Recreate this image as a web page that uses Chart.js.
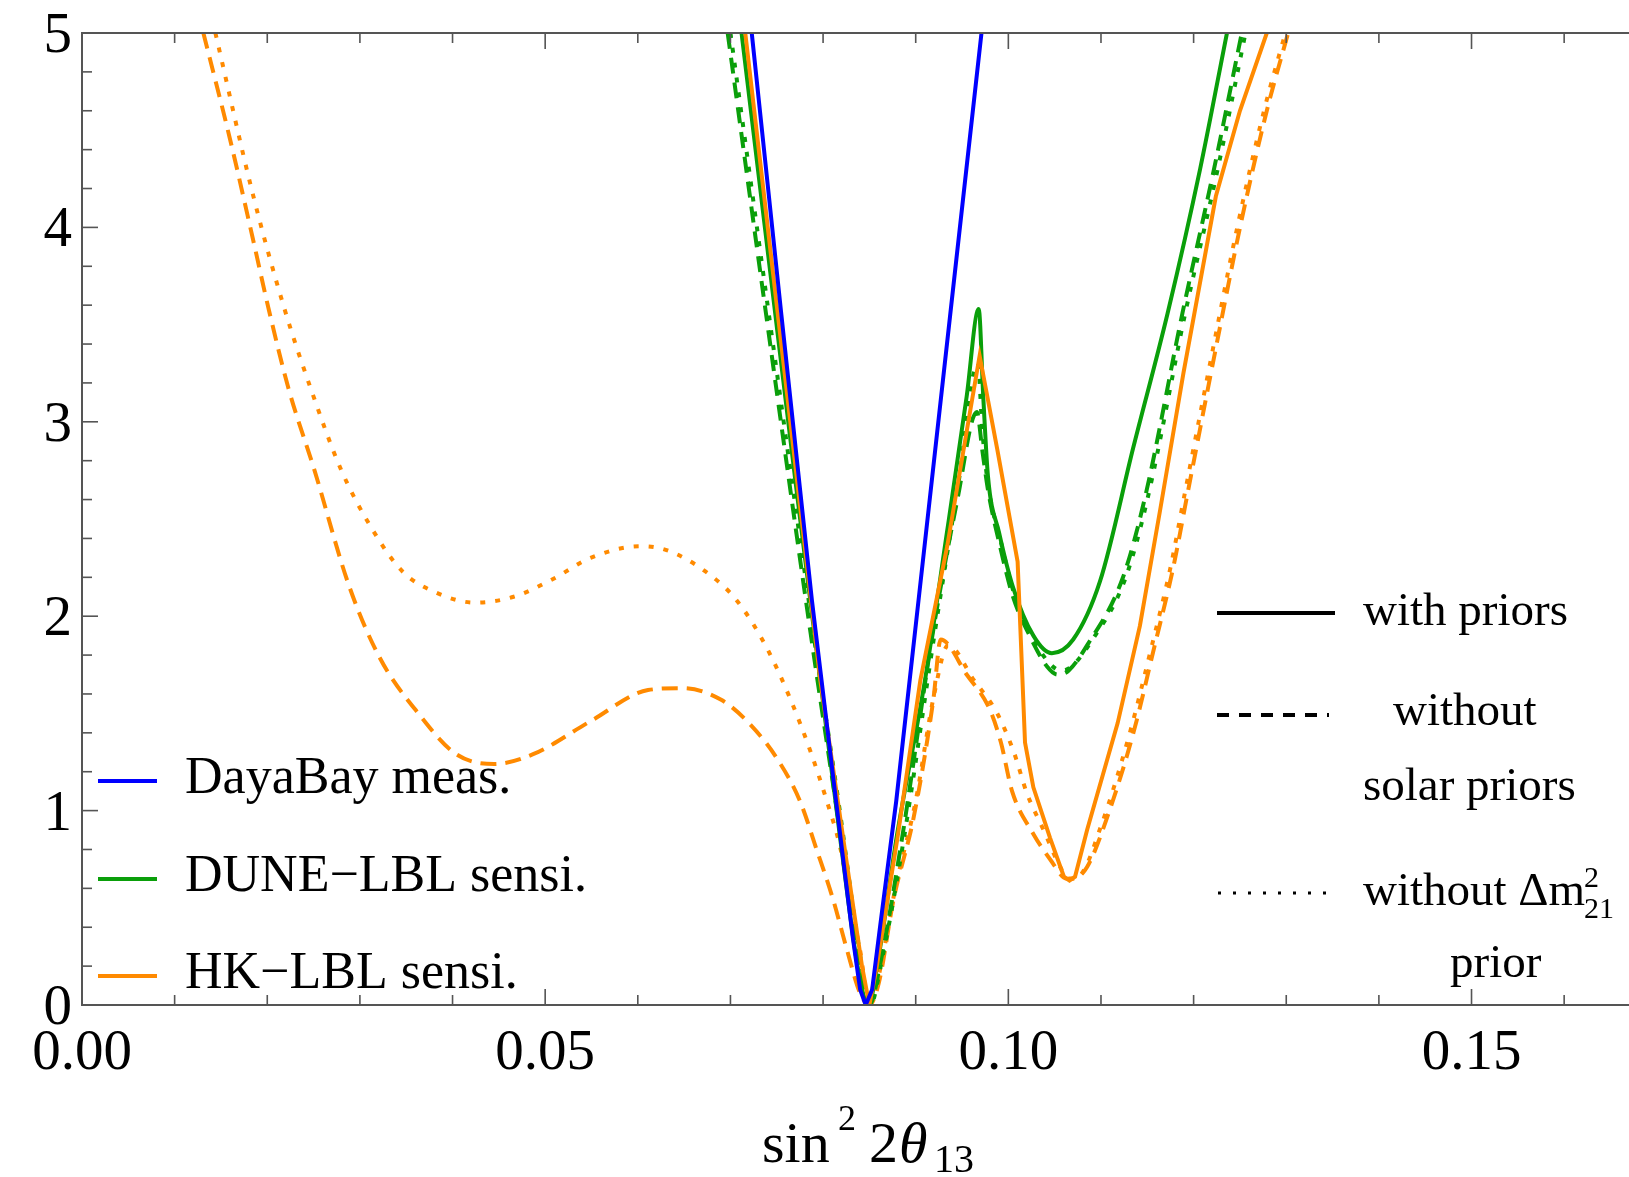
<!DOCTYPE html>
<html lang="en">

<head>
    <meta charset="UTF-8">
    <title>sin^2 2theta13 sensitivity</title>
    <script src="https://cdn.jsdelivr.net/npm/chart.js@4.4.0/dist/chart.umd.min.js"></script>
    <style>
        body {
            margin: 0;
            background: #fff;
        }

        canvas {
            display: block;
        }
    </style>
</head>

<body>
    <canvas id="chart" width="1629" height="1177"></canvas>
    <script>
        // --- data ---
        const dayaBayX = [0.0723, 0.0755, 0.0788, 0.0814, 0.0832, 0.0840, 0.0846, 0.0853, 0.0862, 0.0879, 0.0903, 0.0937, 0.0971];
        const dayaBayY = [5.00, 3.55, 2.08, 1.05, 0.35, 0.08, 0.00, 0.08, 0.42, 1.05, 2.08, 3.54, 5.00];

        const duneX = [0.0712, 0.0744, 0.0770, 0.0797, 0.0820, 0.0838, 0.0849, 0.0859, 0.0880, 0.0910, 0.0934, 0.0955, 0.0968, 0.0973, 0.0978, 0.0990, 0.1005, 0.1027, 0.1047, 0.1070, 0.1099, 0.1135, 0.1172, 0.1207, 0.1236];
        const duneY = [5.00, 3.73, 2.70, 1.67, 0.80, 0.18, 0.00, 0.22, 0.88, 1.67, 2.44, 3.13, 3.58, 3.12, 2.72, 2.43, 2.15, 1.90, 1.81, 1.88, 2.18, 2.87, 3.56, 4.30, 5.00];

        const duneNoSolarX = [0.0697, 0.0740, 0.0786, 0.0815, 0.0835, 0.0850, 0.0862, 0.0885, 0.0919, 0.0945, 0.0966, 0.0972, 0.0978, 0.0991, 0.1005, 0.1024, 0.1042, 0.1053, 0.1065, 0.1085, 0.1123, 0.1147, 0.1188, 0.1222, 0.1252];
        const duneNoSolarY = [5.00, 3.50, 1.93, 1.00, 0.35, 0.00, 0.22, 0.85, 1.93, 2.60, 3.05, 2.85, 2.65, 2.36, 2.10, 1.89, 1.74, 1.70, 1.72, 1.85, 2.19, 2.60, 3.56, 4.30, 5.00];

        const duneNoDm21X = [0.0700, 0.0743, 0.0789, 0.0818, 0.0837, 0.0851, 0.0863, 0.0887, 0.0921, 0.0946, 0.0967, 0.0972, 0.0978, 0.0992, 0.1006, 0.1025, 0.1044, 0.1057, 0.1068, 0.1088, 0.1126, 0.1150, 0.1191, 0.1226, 0.1256];
        const duneNoDm21Y = [5.00, 3.50, 1.93, 1.00, 0.35, 0.00, 0.22, 0.85, 1.93, 2.68, 3.30, 2.95, 2.68, 2.38, 2.12, 1.90, 1.76, 1.72, 1.74, 1.86, 2.19, 2.60, 3.56, 4.30, 5.00];

        const hkX = [0.0716, 0.0750, 0.0797, 0.0825, 0.0842, 0.0850, 0.0858, 0.0880, 0.0905, 0.0934, 0.0955, 0.0969, 0.0988, 0.1010, 0.1012, 0.1018, 0.1027, 0.1045, 0.1060, 0.1066, 0.1072, 0.1085, 0.1118, 0.1142, 0.1164, 0.1189, 0.1224, 0.1250, 0.1279];
        const hkY = [5.00, 3.60, 1.67, 0.75, 0.20, 0.00, 0.20, 0.85, 1.67, 2.36, 2.95, 3.34, 2.86, 2.28, 2.05, 1.35, 1.12, 0.86, 0.66, 0.64, 0.66, 0.90, 1.45, 1.95, 2.55, 3.25, 4.16, 4.60, 5.00];

        const hkNoSolarX = [0.0131, 0.0160, 0.0185, 0.0202, 0.0223, 0.0251, 0.0288, 0.0321, 0.0363, 0.0404, 0.0445, 0.0487, 0.0549, 0.0611, 0.0648, 0.0690, 0.0722, 0.0750, 0.0775, 0.0793, 0.0811, 0.0826, 0.0840, 0.0850, 0.0860, 0.0876, 0.0898, 0.0919, 0.0927, 0.0955, 0.0980, 0.0992, 0.1004, 0.1027, 0.1045, 0.1063, 0.1070, 0.1085, 0.1107, 0.1135, 0.1157, 0.1178, 0.1193, 0.1222, 0.1251, 0.1279, 0.1302];
        const hkNoSolarY = [5.00, 4.45, 3.93, 3.57, 3.17, 2.75, 2.16, 1.79, 1.50, 1.29, 1.24, 1.29, 1.46, 1.62, 1.63, 1.57, 1.44, 1.27, 1.05, 0.80, 0.54, 0.28, 0.06, 0.00, 0.11, 0.54, 0.97, 1.57, 1.88, 1.70, 1.52, 1.35, 1.10, 0.88, 0.75, 0.65, 0.65, 0.71, 0.97, 1.40, 1.83, 2.25, 2.62, 3.33, 4.02, 4.60, 5.00];

        const hkNoDm21X = [0.0144, 0.0185, 0.0218, 0.0247, 0.0280, 0.0313, 0.0346, 0.0383, 0.0424, 0.0466, 0.0508, 0.0549, 0.0603, 0.0631, 0.0673, 0.0707, 0.0740, 0.0765, 0.0786, 0.0804, 0.0819, 0.0829, 0.0840, 0.0850, 0.0860, 0.0878, 0.0900, 0.0920, 0.0935, 0.0963, 0.0988, 0.1006, 0.1020, 0.1038, 0.1056, 0.1065, 0.1078, 0.1100, 0.1130, 0.1155, 0.1175, 0.1190, 0.1219, 0.1248, 0.1276, 0.1299];
        const hkNoDm21Y = [5.00, 4.16, 3.59, 3.17, 2.75, 2.45, 2.23, 2.12, 2.07, 2.10, 2.19, 2.30, 2.36, 2.34, 2.23, 2.08, 1.83, 1.57, 1.31, 1.05, 0.80, 0.54, 0.28, 0.00, 0.15, 0.60, 1.05, 1.60, 1.85, 1.67, 1.50, 1.30, 1.09, 0.90, 0.71, 0.65, 0.67, 0.92, 1.38, 1.85, 2.25, 2.62, 3.33, 4.02, 4.60, 5.00];

        // axis ticks
        const xTickValues = [0, 0.05, 0.10, 0.15];
        const xTickLabels = ['0.00', '0.05', '0.10', '0.15'];
        const yTickValues = [0, 1, 2, 3, 4, 5];
        const yTickLabels = ['0', '1', '2', '3', '4', '5'];
        const xMinorStep = 0.01;
        const yMinorStep = 0.2;

        const experiments = ['DayaBay meas.', 'DUNE\u2212LBL sensi.', 'HK\u2212LBL sensi.'];

        const BLUE = '#0000ff';
        const GREEN = '#0a9f0a';
        const ORANGE = '#ff8a00';
        const SERIF = '"Liberation Serif", "DejaVu Serif", serif';
        const DASH = [16, 9];
        const DOT = [5, 10];

        function pts(xs, ys) {
            return xs.map((x, i) => ({ x: x, y: ys[i] }));
        }

        function line(data, color, dash, width, smooth) {
            return {
                data: data,
                borderColor: color,
                borderWidth: width,
                borderDash: dash,
                pointRadius: 0,
                fill: false,
                tension: 0,
                cubicInterpolationMode: smooth ? 'monotone' : 'default'
            };
        }

        // frame, inward ticks, labels and the two legends
        const decorations = {
            id: 'decorations',
            afterDraw(chart) {
                const ctx = chart.ctx;
                const xs = chart.scales.x;
                const ys = chart.scales.y;
                const a = chart.chartArea;

                ctx.save();
                ctx.strokeStyle = '#555';
                ctx.lineWidth = 2;
                ctx.setLineDash([]);
                ctx.beginPath();
                ctx.moveTo(a.right, a.top);
                ctx.lineTo(a.left, a.top);
                ctx.lineTo(a.left, a.bottom);
                ctx.lineTo(a.right, a.bottom);
                ctx.stroke();

                // x ticks (bottom and top)
                ctx.lineWidth = 1.6;
                for (let i = 1; xs.min + i * xMinorStep < xs.max; i++) {
                    const v = i * xMinorStep;
                    const major = i % 5 === 0;
                    const len = major ? 16 : 10;
                    const px = xs.getPixelForValue(v);
                    ctx.beginPath();
                    ctx.moveTo(px, a.bottom);
                    ctx.lineTo(px, a.bottom - len);
                    ctx.moveTo(px, a.top);
                    ctx.lineTo(px, a.top + len);
                    ctx.stroke();
                }
                // y ticks
                for (let i = 1; i * yMinorStep < ys.max - 1e-9; i++) {
                    const major = i % 5 === 0;
                    const len = major ? 16 : 10;
                    const py = ys.getPixelForValue(i * yMinorStep);
                    ctx.beginPath();
                    ctx.moveTo(a.left, py);
                    ctx.lineTo(a.left + len, py);
                    ctx.stroke();
                }

                // tick labels
                ctx.fillStyle = '#000';
                ctx.font = '57px ' + SERIF;
                ctx.textAlign = 'center';
                ctx.textBaseline = 'alphabetic';
                xTickValues.forEach((v, i) => {
                    ctx.fillText(xTickLabels[i], xs.getPixelForValue(v), a.bottom + 64);
                });
                ctx.textAlign = 'right';
                yTickValues.forEach((v, i) => {
                    ctx.fillText(yTickLabels[i], a.left - 10, ys.getPixelForValue(v) + 19);
                });

                // axis title: sin^2 2θ_13
                ctx.textAlign = 'left';
                ctx.font = '58px ' + SERIF;
                ctx.fillText('sin', 762, 1162);
                ctx.font = '36px ' + SERIF;
                ctx.fillText('2', 838, 1130);
                ctx.font = '58px ' + SERIF;
                ctx.fillText('2', 869, 1162);
                ctx.font = 'italic 58px ' + SERIF;
                ctx.fillText('\u03b8', 899, 1162);
                ctx.font = '40px ' + SERIF;
                ctx.fillText('13', 934, 1172);

                // experiment legend
                const expColors = [BLUE, GREEN, ORANGE];
                const expLineY = [781, 879, 976];
                ctx.font = '52px ' + SERIF;
                experiments.forEach((name, i) => {
                    ctx.strokeStyle = expColors[i];
                    ctx.lineWidth = 4;
                    ctx.beginPath();
                    ctx.moveTo(98, expLineY[i]);
                    ctx.lineTo(157, expLineY[i]);
                    ctx.stroke();
                    ctx.fillText(name, 185, expLineY[i] + 12);
                });

                // style legend
                ctx.strokeStyle = '#000';
                ctx.lineWidth = 4;
                ctx.beginPath();
                ctx.moveTo(1217, 613);
                ctx.lineTo(1335, 613);
                ctx.stroke();
                ctx.setLineDash([12, 10]);
                ctx.beginPath();
                ctx.moveTo(1217, 715);
                ctx.lineTo(1329, 715);
                ctx.stroke();
                ctx.setLineDash([3, 12]);
                ctx.lineWidth = 3;
                ctx.beginPath();
                ctx.moveTo(1218, 893);
                ctx.lineTo(1330, 893);
                ctx.stroke();
                ctx.setLineDash([]);

                ctx.font = '47px ' + SERIF;
                ctx.fillText('with priors', 1363, 625);
                ctx.fillText('without', 1393, 725);
                ctx.fillText('solar priors', 1363, 800);
                ctx.fillText('without \u0394m', 1363, 905);
                ctx.font = '30px ' + SERIF;
                ctx.fillText('2', 1584, 887);
                ctx.fillText('21', 1584, 918);
                ctx.font = '47px ' + SERIF;
                ctx.fillText('prior', 1450, 977);
                ctx.restore();
            }
        };

        new Chart(document.getElementById('chart'), {
            type: 'line',
            data: {
                datasets: [
                    line(pts(dayaBayX, dayaBayY), BLUE, [], 4, false),
                    line(pts(hkX, hkY), ORANGE, [], 4, false),
                    line(pts(duneX, duneY), GREEN, [], 4, true),
                    line(pts(duneNoSolarX, duneNoSolarY), GREEN, DASH, 4, true),
                    line(pts(duneNoDm21X, duneNoDm21Y), GREEN, DOT, 4, true),
                    line(pts(hkNoSolarX, hkNoSolarY), ORANGE, DASH, 4, true),
                    line(pts(hkNoDm21X, hkNoDm21Y), ORANGE, DOT, 4, true)
                ]
            },
            options: {
                responsive: false,
                devicePixelRatio: 1,
                animation: false,
                layout: { padding: { left: 82, top: 33, right: 0, bottom: 172 } },
                scales: {
                    x: { type: 'linear', display: false, min: 0, max: 0.167 },
                    y: { type: 'linear', display: false, min: 0, max: 5 }
                },
                plugins: {
                    legend: { display: false },
                    tooltip: { enabled: false }
                }
            },
            plugins: [decorations]
        });
    </script>
</body>

</html>
